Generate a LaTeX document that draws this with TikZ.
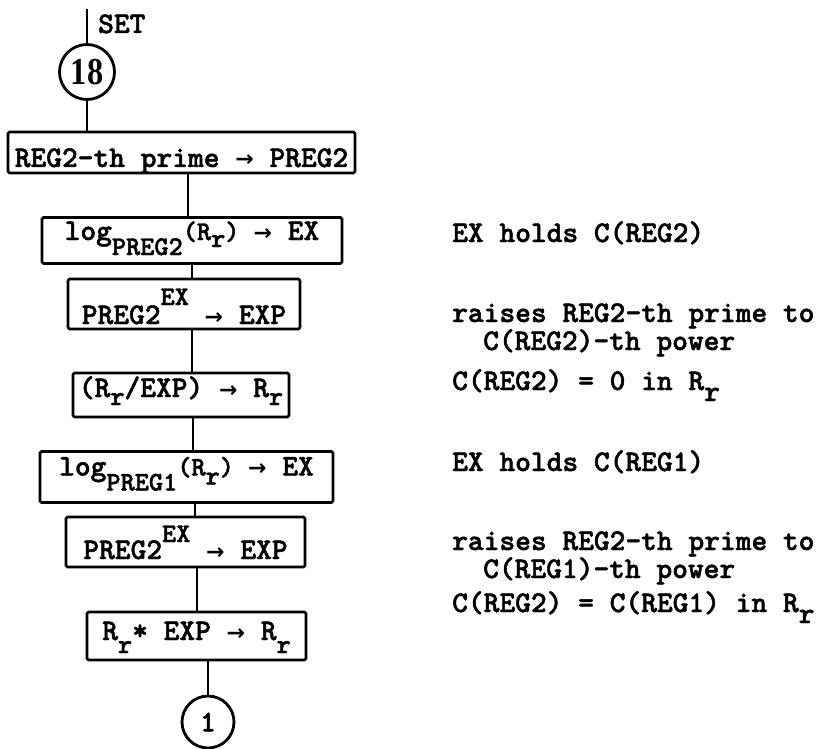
\documentclass[tikz,border=0pt]{standalone}
\usepackage{fontspec}
\newfontfamily\tw[FakeBold=1.6]{lmmonolt10-bold.otf}
\newfontfamily\arr{DejaVu Sans}
\newfontfamily\cnum[FakeStretch=0.85]{Liberation Serif}
\newcommand{\mainf}{\tw\fontsize{30}{30}\selectfont}
\newcommand{\subf}{\tw\fontsize{27}{27}\selectfont}
\newcommand{\mydn}[2]{\raisebox{-#1pt}{\subf #2}}
\newcommand{\myup}[2]{\raisebox{#1pt}{\subf #2}}
\newcommand{\mydnn}[2]{\raisebox{-#1pt}{#2}}
\newcommand{\rarr}{{\arr\bfseries\fontsize{22}{22}\selectfont →}}
\begin{document}
\begin{tikzpicture}[x=1pt,y=-1pt,
  every node/.style={font=\mainf},
  bx/.style={draw, line width=2.8pt, rounded corners=1.5pt, inner sep=0pt},
  cir/.style={draw, circle, line width=2.8pt, inner sep=0pt},
  ln/.style={line width=2.8pt},
  note/.style={anchor=base west, inner sep=0pt}]
\useasboundingbox (0,0) rectangle (827,749);

\coordinate (top) at (87,9);
\node[note] (set) at (98,33) {SET};
\node[cir, minimum size=55pt, font=\cnum\bfseries\fontsize{38}{38}\selectfont] (c18) at (87,72) {18};

\node[bx, minimum width=347pt, minimum height=41pt, text height=29pt, text depth=0pt] (b1) at (181.5,152.5) {REG2-th prime \rarr{} PREG2};
\node[bx, minimum width=300pt, minimum height=46pt, text height=0pt, text depth=1pt] (b2) at (192,240.5) {log\mydn{15}{PREG2}\subf(R\mydn{7}{r}) \mainf\rarr{} EX};
\node[bx, minimum width=232pt, minimum height=50pt, text height=40pt, text depth=0pt] (b3) at (184,304) {PREG2\myup{19}{EX} \rarr{} EXP};
\node[bx, minimum width=216pt, minimum height=44pt, text height=4pt, text depth=0pt] (b4) at (181,395) {(R\mydn{8}{r}/EXP) \rarr{} R\mydn{8}{r}};
\node[bx, minimum width=293pt, minimum height=51pt, text height=0pt, text depth=3pt] (b5) at (186.5,477) {log\mydn{15}{PREG1}\subf(R\mydn{9}{r}) \mainf\rarr{} EX};
\node[bx, minimum width=239pt, minimum height=50pt, text height=34pt, text depth=0pt] (b6) at (185.5,542) {PREG2\myup{17}{EX} \rarr{} EXP};
\node[bx, minimum width=219pt, minimum height=48pt, text height=8pt, text depth=0pt] (b7) at (196.5,636) {R\mydn{13}{r}* EXP \rarr{} R\mydn{13}{r}};
\node[cir, minimum size=52pt] (c1) at (208,722) {1};

\coordinate (x12) at (188,0);
\coordinate (x23) at (192,0);
\coordinate (x34) at (192,0);
\coordinate (x45) at (193,0);
\coordinate (x56) at (195,0);
\coordinate (x67) at (197,0);

\draw[ln] (top) -- (c18.north);
\draw[ln] (c18.south) -- (c18.south |- b1.north);
\draw[ln] (b1.south -| x12) -- (b2.north -| x12);
\draw[ln] (b2.south -| x23) -- (b3.north -| x23);
\draw[ln] (b3.south -| x34) -- (b4.north -| x34);
\draw[ln] (b4.south -| x45) -- (b5.north -| x45);
\draw[ln] (b5.south -| x56) -- (b6.north -| x56);
\draw[ln] (b6.south -| x67) -- (b7.north -| x67);
\draw[ln] (b7.south -| c1.north) -- (c1.north);

\node[note] (a1) at (452,242) {EX holds C(REG2)};
\node[note] (a2) at (452,322) {raises REG2-th prime to};
\node[note] (a2b) at (483,350) {C(REG2)-th power};
\node[note] (a3) at (452,390) {C(REG2) = 0 in R\mydnn{11}{r}};
\node[note] (a4) at (452,471) {EX holds C(REG1)};
\node[note] (a5) at (452,550) {raises REG2-th prime to};
\node[note] (a5b) at (483,578) {C(REG1)-th power};
\node[note] (a6) at (452,612) {C(REG2) = C(REG1) in R\mydnn{11}{r}};
\end{tikzpicture}
\end{document}
